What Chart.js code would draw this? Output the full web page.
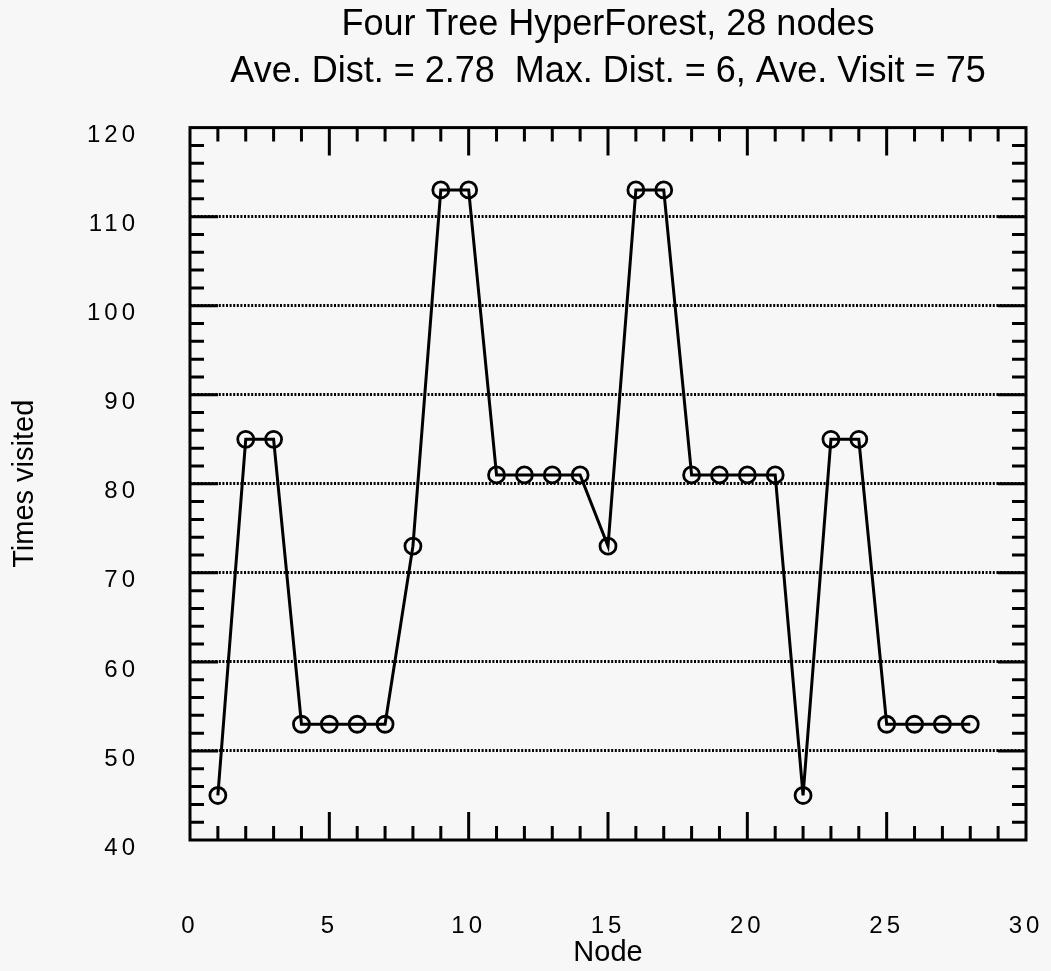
<!DOCTYPE html>
<html>
<head>
<meta charset="utf-8">
<script src="https://cdn.jsdelivr.net/npm/chart.js@4.4.0/dist/chart.umd.min.js"></script>
<style>
  html, body { margin: 0; padding: 0; background: #f7f7f7; }
  #visitChartContainer { width: 1051px; height: 971px; }
</style>
</head>
<body>
<div id="visitChartContainer"><canvas id="visitChart" width="1051" height="971"></canvas></div>
<script>
// data
const nodes = [1, 2, 3, 4, 5, 6, 7, 8, 9, 10, 11, 12, 13, 14, 15, 16, 17, 18, 19, 20, 21, 22, 23, 24, 25, 26, 27, 28];
const timesVisited = [45, 85, 85, 53, 53, 53, 53, 73, 113, 113, 81, 81, 81, 81, 73, 113, 113, 81, 81, 81, 81, 45, 85, 85, 53, 53, 53, 53];
const titleLines = ["Four Tree HyperForest, 28 nodes", "Ave. Dist. = 2.78  Max. Dist. = 6, Ave. Visit = 75"];
const xTickValues = [0, 5, 10, 15, 20, 25, 30];
const yTickValues = [40, 50, 60, 70, 80, 90, 100, 110, 120];

const plainFont = "'Liberation Sans', Arial, Helvetica, sans-serif";

function spaceLabels(scale, px) {
  if (scale._spaced) return;
  const orig = scale.drawLabels;
  scale.drawLabels = function (area) {
    this.ctx.save();
    this.ctx.letterSpacing = px;
    orig.call(this, area);
    this.ctx.restore();
  };
  scale._spaced = true;
}

// background, box frame and the inward tick marks on all four sides
const framePlugin = {
  id: "frame",
  beforeDraw(chart) {
    const ctx = chart.ctx;
    ctx.save();
    ctx.fillStyle = "#f7f7f7";
    ctx.fillRect(0, 0, chart.width, chart.height);
    ctx.restore();
    spaceLabels(chart.scales.x, "4px");
    spaceLabels(chart.scales.y, "4px");
  },
  afterDatasetsDraw(chart) {
    const { ctx, chartArea: a, scales: { x, y } } = chart;
    ctx.save();
    ctx.strokeStyle = "#000";
    ctx.lineWidth = 3;
    ctx.beginPath();
    for (let v = x.min + 1; v < x.max; v++) {
      const px = x.getPixelForValue(v);
      const len = v % 5 === 0 ? 28 : 14;
      ctx.moveTo(px, a.bottom);
      ctx.lineTo(px, a.bottom - len);
      ctx.moveTo(px, a.top);
      ctx.lineTo(px, a.top + len);
    }
    for (let v = y.min + 2; v < y.max; v += 2) {
      const py = y.getPixelForValue(v);
      const len = v % 10 === 0 ? 28 : 14;
      ctx.moveTo(a.left, py);
      ctx.lineTo(a.left + len, py);
      ctx.moveTo(a.right, py);
      ctx.lineTo(a.right - len, py);
    }
    ctx.stroke();
    ctx.lineWidth = 3;
    ctx.strokeRect(a.left, a.top, a.right - a.left, a.bottom - a.top);
    ctx.restore();
  }
};

const visitChart = document.getElementById("visitChart").getContext("2d");

new Chart(visitChart, {
  type: "line",
  data: {
    datasets: [
      {
        data: nodes.map((n, i) => ({ x: n, y: timesVisited[i] })),
        borderColor: "#000",
        borderWidth: 3,
        tension: 0,
        pointRadius: 8,
        pointBorderWidth: 2.8,
        pointBorderColor: "#000",
        pointBackgroundColor: "rgba(0,0,0,0)",
        clip: false,
      },
    ],
  },
  options: {
    responsive: false,
    devicePixelRatio: 1,
    animation: false,
    layout: { padding: { left: 0, right: 25, top: 0, bottom: 0 } },
    plugins: {
      legend: { display: false },
      tooltip: { enabled: false },
      title: {
        display: true,
        fullSize: false,
        text: titleLines,
        color: "#000",
        font: { family: plainFont, size: 36, weight: "normal", lineHeight: 1.3 },
        padding: { top: 2, bottom: 32 },
      },
    },
    scales: {
      x: {
        type: "linear",
        min: 0,
        max: 30,
        afterBuildTicks: (s) => { s.ticks = xTickValues.map((v) => ({ value: v })); },
        afterFit: (s) => { s.height = 131; s.paddingLeft = 0; s.paddingRight = 0; },
        grid: { display: false, drawTicks: false },
        border: { display: false },
        ticks: {
          color: "#000",
          font: { family: plainFont, size: 24 },
          padding: 72,
          maxRotation: 0,
        },
        title: {
          display: true,
          text: "Node",
          color: "#000",
          font: { family: plainFont, size: 29, lineHeight: 1.1 },
          padding: { top: 0, bottom: 2 },
        },
      },
      y: {
        type: "linear",
        min: 40,
        max: 120,
        afterBuildTicks: (s) => { s.ticks = yTickValues.map((v) => ({ value: v })); },
        afterFit: (s) => { s.width = 190; },
        grid: {
          drawTicks: false,
          lineWidth: 3,
          color: (c) => (c.tick && (c.tick.value === 40 || c.tick.value === 120)) ? "rgba(0,0,0,0)" : "#000",
        },
        border: { display: false, dash: [2, 1.6] },
        ticks: {
          color: "#000",
          font: { family: plainFont, size: 24 },
          padding: 51,
          labelOffset: 8,
        },
        title: {
          display: true,
          text: "Times visited",
          color: "#000",
          font: { family: plainFont, size: 29, lineHeight: 1.1 },
          padding: { top: 9, bottom: 0 },
        },
      },
    },
  },
  plugins: [framePlugin],
});
</script>
</body>
</html>
